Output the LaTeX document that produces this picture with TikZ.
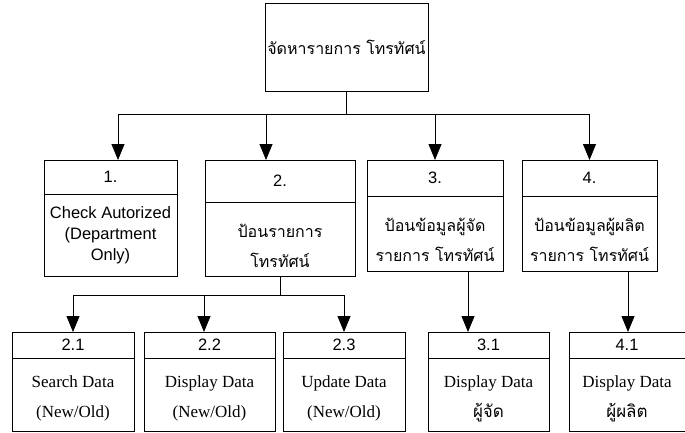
\documentclass[tikz,border=0pt]{standalone}
\usepackage{fontspec}
\setmainfont{Liberation Serif}
\newfontfamily\arialf{Liberation Sans}
\newfontfamily\thaif[Script=Thai]{Loma}
\usepackage{tikz}
\usetikzlibrary{positioning,arrows.meta,calc}
\newcommand{\boxpad}[1]{\rule{0pt}{#1}}

\begin{document}
\begin{tikzpicture}[x=1pt, y=-1pt,
    box/.style={draw, line width=0.8pt, outer sep=0pt, inner sep=0pt, align=center},
    hdr/.style={box, font=\arialf\fontsize{16.5}{20}\selectfont},
    thaitext/.style={font=\thaif\fontsize{16}{30}\selectfont},
    subtext/.style={font=\fontsize{17}{30}\selectfont},
    arr/.style={line width=0.8pt, -{Triangle[width=13pt, length=16pt]}},
    con/.style={line width=0.8pt}]
    \useasboundingbox (0,0) rectangle (685,432);
    \clip (0,0) rectangle (685,432);

    % Top box
    \node[box, thaitext, minimum width=163pt, minimum height=88pt] (top) at (346.5,47) {จัดหารายการ โทรทัศน์};

    % Level 1 boxes
    \node[hdr, minimum width=133pt, minimum height=34pt] (h1) at (110.5,177) {1.};
    \node[box, below=0pt of h1, minimum width=133pt, minimum height=82pt, font=\arialf\fontsize{16.5}{21}\selectfont] (b1) {Check Autorized\\(Department\\Only)};

    \node[hdr, minimum width=150pt, minimum height=42pt] (h2) at (280,181) {2.};
    \node[box, thaitext, below=0pt of h2, minimum width=150pt, minimum height=74pt] (b2) {\boxpad{28pt}ป้อนรายการ\\โทรทัศน์};

    \node[hdr, minimum width=136pt, minimum height=36pt] (h3) at (435,178) {3.};
    \node[box, thaitext, below=0pt of h3, minimum width=136pt, minimum height=75pt] (b3) {\boxpad{27pt}ป้อนข้อมูลผู้จัด\\รายการ โทรทัศน์};

    \node[hdr, minimum width=135pt, minimum height=36pt] (h4) at (589.5,178) {4.};
    \node[box, thaitext, below=0pt of h4, minimum width=135pt, minimum height=75pt] (b4) {\boxpad{27pt}ป้อนข้อมูลผู้ผลิต\\รายการ โทรทัศน์};

    % Level 2 boxes
    \node[hdr, minimum width=122pt, minimum height=26pt] (h21) at (73,345) {2.1};
    \node[box, subtext, below=0pt of h21, minimum width=122pt, minimum height=73pt] (b21) {\boxpad{20pt}Search Data\\(New/Old)};

    \node[hdr, minimum width=131pt, minimum height=26pt] (h22) at (209.5,345) {2.2};
    \node[box, subtext, below=0pt of h22, minimum width=131pt, minimum height=73pt] (b22) {\boxpad{20pt}Display Data\\(New/Old)};

    \node[hdr, minimum width=122pt, minimum height=26pt] (h23) at (344,345) {2.3};
    \node[box, subtext, below=0pt of h23, minimum width=122pt, minimum height=73pt] (b23) {\boxpad{20pt}Update Data\\(New/Old)};

    \node[hdr, minimum width=121pt, minimum height=26pt] (h31) at (488.5,345) {3.1};
    \node[box, subtext, below=0pt of h31, minimum width=121pt, minimum height=73pt] (b31) {\boxpad{20pt}Display Data\\{\thaif ผู้จัด}};

    \node[hdr, minimum width=116pt, minimum height=26pt] (h41) at (627,345) {4.1};
    \node[box, subtext, below=0pt of h41, minimum width=116pt, minimum height=73pt] (b41) {\boxpad{20pt}Display Data\\{\thaif ผู้ผลิต}};

    % Connectors from the top box
    \draw[con] (top.south) -- ++(0,23) coordinate (bus1);
    \draw[arr] (bus1) -| ([xshift=7.5pt]h1.north);
    \draw[arr] (bus1) -| ([xshift=-14pt]h2.north);
    \draw[arr] (bus1) -| (h3.north);
    \draw[arr] (bus1) -| (h4.north);

    % Connectors from box 2
    \draw[con] (b2.south) -- ++(0,19) coordinate (bus2);
    \draw[arr] (bus2) -| (h21.north);
    \draw[arr] (bus2) -| ([xshift=-5.5pt]h22.north);
    \draw[arr] (bus2) -| (h23.north);

    % Connectors from boxes 3 and 4
    \draw[arr] ([xshift=33pt]b3.south) -- ([xshift=33pt]b3.south |- h31.north);
    \draw[arr] ([xshift=38.5pt]b4.south) -- ([xshift=38.5pt]b4.south |- h41.north);
\end{tikzpicture}
\end{document}
